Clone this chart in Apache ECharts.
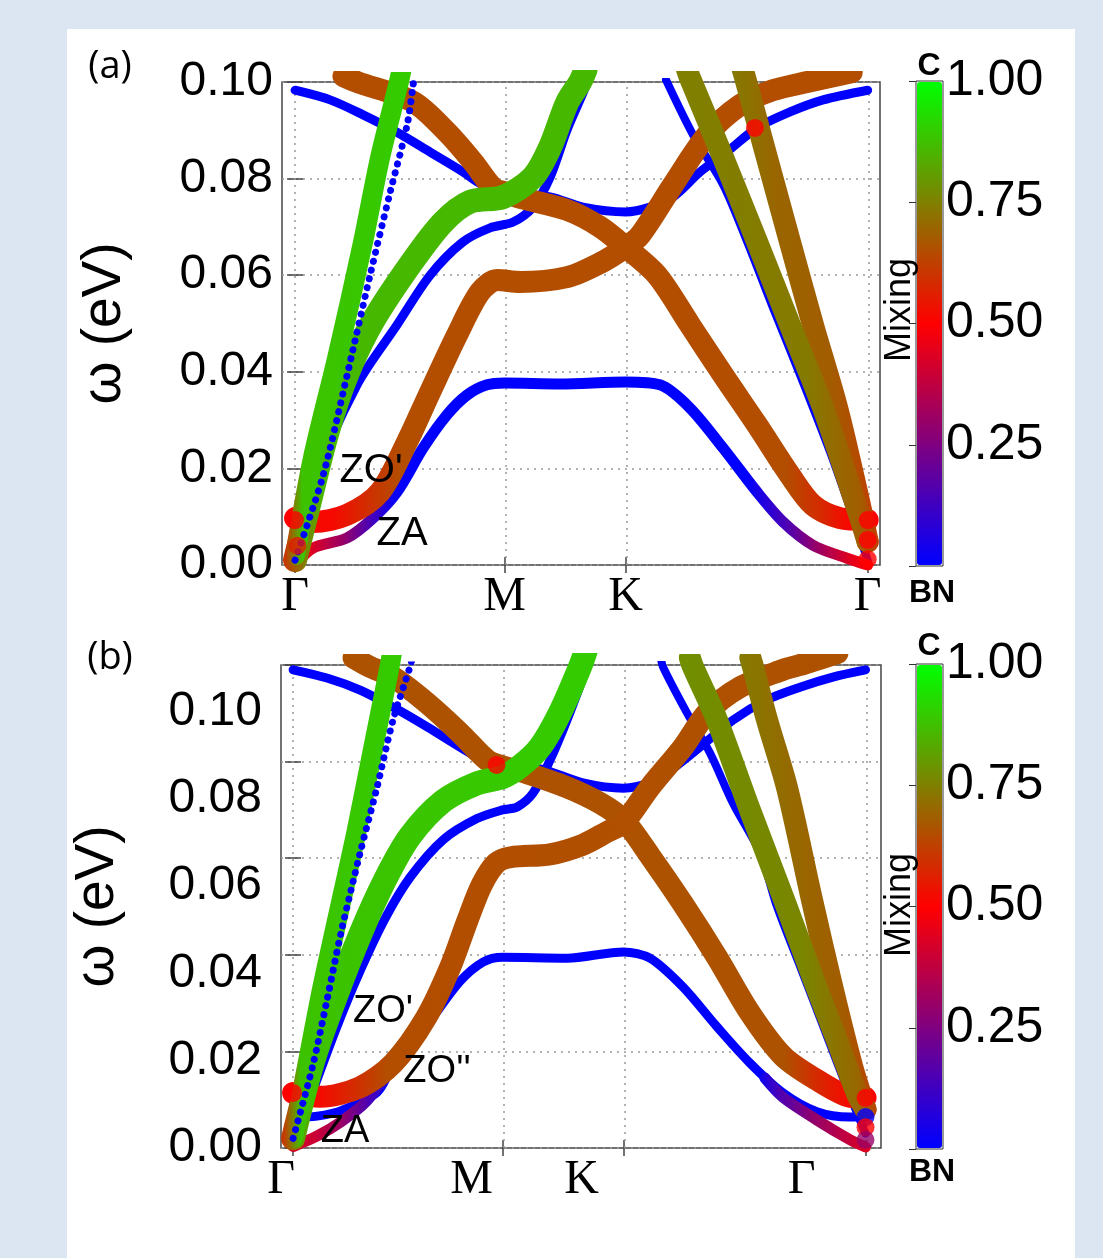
<!DOCTYPE html>
<html>
<head>
<meta charset="utf-8">
<script src="https://cdn.jsdelivr.net/npm/echarts@6/dist/echarts.min.js"></script>
<style>
  html, body { margin: 0; padding: 0; background: #dce6f2; }
  #main { width: 1103px; height: 1258px; }
</style>
</head>
<body>
<div id="main"></div>
<script>
// high-symmetry path: Γ-M-K-Γ (path length units)
const tickU = [0, 0.866, 1.366, 2.366];
const tickNames = ['Γ', 'M', 'K', 'Γ'];
const barTicks = [0.25, 0.5, 0.75, 1.0];

// ---- panel (a): [k, ω(eV)] ; mixing given as [k, mix] stops ----
const aUpperBlue = [[0,0.0983],[0.145,0.0963],[0.281,0.0932],[0.421,0.0896],[0.558,0.0855],[0.694,0.0814],[0.764,0.0790],[0.860,0.0772],[1.054,0.0762],[1.190,0.0741],[1.366,0.0731],[1.467,0.0741],[1.562,0.0762],[1.674,0.0814],[1.769,0.0849],[1.909,0.0905],[2.045,0.0938],[2.182,0.0963],[2.366,0.0983]];
const aZA = [[0,0],[0.074,0.0035],[0.215,0.0056],[0.322,0.0097],[0.421,0.0151],[0.529,0.0242],[0.628,0.0311],[0.711,0.0352],[0.793,0.0373],[0.866,0.0377],[1.095,0.0375],[1.366,0.0379],[1.508,0.0373],[1.632,0.0325],[1.769,0.0242],[1.909,0.0151],[2.017,0.0089],[2.140,0.0041],[2.281,0.0014],[2.366,0]];
const aZAMix = [[0,0.5],[0.074,0.45],[0.215,0.3],[0.322,0.15],[0.421,0.02],[0.5,0],[1.85,0],[2.017,0.15],[2.140,0.3],[2.281,0.45],[2.366,0.5]];
const aZO1 = [[0,0.0097],[0.074,0.0089],[0.215,0.0104],[0.351,0.0151],[0.463,0.0255],[0.558,0.0358],[0.669,0.0476],[0.764,0.0565],[0.835,0.0590],[0.930,0.0586],[1.124,0.0596],[1.260,0.0625],[1.366,0.0658],[1.426,0.0683],[1.562,0.0787],[1.702,0.0890],[1.839,0.0952],[1.975,0.0983],[2.116,0.1000],[2.30,0.1020]];
const aZO1Mix = [[0,0.5],[0.2,0.52],[0.35,0.6],[0.46,0.65],[2.3,0.65]];
const aBrown2 = [[0.20,0.1012],[0.256,0.1000],[0.488,0.0959],[0.628,0.0896],[0.736,0.0834],[0.818,0.0781],[0.876,0.0770],[0.917,0.0762],[1.124,0.0735],[1.260,0.0700],[1.366,0.0658],[1.496,0.0600],[1.632,0.0497],[1.769,0.0393],[1.909,0.0290],[2.045,0.0186],[2.140,0.0124],[2.252,0.0097],[2.366,0.0093]];
const aBrown2Mix = [[0.2,0.65],[2.0,0.65],[2.14,0.58],[2.25,0.51],[2.366,0.5]];
const aGreenWide = [[0,0.001],[0.06,0.013],[0.137,0.028],[0.22,0.040],[0.322,0.0505],[0.483,0.0627],[0.612,0.0710],[0.723,0.0752],[0.860,0.0762],[0.983,0.0803],[1.054,0.0865],[1.124,0.0957],[1.178,0.1000],[1.20,0.1025]];
const aGreenWideMix = [[0,0.6],[0.15,0.86],[1.2,0.86]];
const aBlueTA = [[0,0],[0.074,0.0166],[0.256,0.0373],[0.421,0.0497],[0.558,0.0600],[0.694,0.0669],[0.806,0.0698],[0.901,0.0710],[0.983,0.0741],[1.054,0.0803],[1.124,0.0901],[1.207,0.0998],[1.22,0.1025]];
const aGreenSteep = [[0,0.002],[0.074,0.0222],[0.174,0.0429],[0.281,0.0669],[0.351,0.0843],[0.426,0.0994],[0.44,0.1025]];
const aGreenSteepMix = [[0,0.6],[0.06,0.88],[0.44,0.9]];
const aBlueSteepL = [[0,0.001],[0.116,0.0186],[0.215,0.0393],[0.310,0.0600],[0.393,0.0772],[0.463,0.0911],[0.488,0.0994],[0.495,0.1025]];
const aBlueSteepR = [[1.533,0.1004],[1.645,0.0890],[1.769,0.0787],[1.868,0.0669],[1.975,0.0532],[2.087,0.0393],[2.223,0.0217],[2.366,0.001]];
const aOlive1 = [[1.62,0.1025],[1.632,0.1008],[1.769,0.0843],[1.909,0.0669],[2.045,0.0497],[2.182,0.0325],[2.322,0.0118],[2.366,0.0048]];
const aOlive1Mix = [[1.62,0.75],[2.1,0.74],[2.3,0.68],[2.366,0.62]];
const aOlive2 = [[1.85,0.1025],[1.860,0.1008],[1.950,0.0843],[2.045,0.0669],[2.140,0.0497],[2.240,0.0325],[2.322,0.0151],[2.366,0.0048]];
const aOlive2Mix = [[1.85,0.74],[2.0,0.7],[2.2,0.68],[2.366,0.62]];
const aDots = [[0,0.0093,0.5],[0.01,0.004,0.55],[2.366,0.0093,0.5],[2.366,0.0052,0.5],[2.366,0.0012,0.5],[1.90,0.0905,0.5]];

// ---- panel (b) ----
const bUpperBlue = [[0,0.0990],[0.140,0.0973],[0.277,0.0948],[0.413,0.0913],[0.554,0.0872],[0.690,0.0830],[0.802,0.0797],[0.866,0.0790],[1.021,0.0785],[1.198,0.0756],[1.366,0.0745],[1.475,0.0756],[1.545,0.0776],[1.682,0.0830],[1.818,0.0886],[1.959,0.0928],[2.095,0.0954],[2.231,0.0975],[2.366,0.0990]];
const bZALeft = [[0,0.0003],[0.1,0.0025],[0.2,0.0055],[0.3,0.0095],[0.413,0.0170]];
const bZALeftMix = [[0,0.42],[0.1,0.4],[0.2,0.3],[0.3,0.15],[0.413,0.02]];
const bZARight = [[1.95,0.0145],[2.025,0.0105],[2.165,0.0058],[2.302,0.0017],[2.366,0.0002]];
const bZARightMix = [[1.95,0.02],[2.025,0.15],[2.165,0.3],[2.302,0.4],[2.366,0.45]];
const bZO2 = [[0,0.0064],[0.1,0.0066],[0.207,0.0079],[0.347,0.0115],[0.413,0.0170],[0.554,0.0255],[0.690,0.0345],[0.785,0.0385],[0.866,0.0395],[1.132,0.0393],[1.366,0.0406],[1.475,0.0393],[1.612,0.0333],[1.752,0.0251],[1.888,0.0176],[2.025,0.0114],[2.165,0.0075],[2.302,0.0064],[2.366,0.0064]];
const bZO1 = [[0,0.0114],[0.112,0.0106],[0.277,0.0126],[0.413,0.0175],[0.55,0.0270],[0.65,0.0375],[0.72,0.0470],[0.78,0.0545],[0.84,0.0590],[0.90,0.0602],[1.062,0.0608],[1.198,0.0628],[1.30,0.0655],[1.366,0.0673],[1.475,0.0747],[1.612,0.0830],[1.711,0.0901],[1.847,0.0954],[2.025,0.0990],[2.095,0.1000],[2.25,0.1025]];
const bZO1Mix = [[0,0.5],[0.112,0.5],[0.277,0.58],[0.413,0.65],[2.25,0.66]];
const bBrown2 = [[0.25,0.1015],[0.318,0.0996],[0.413,0.0975],[0.554,0.0921],[0.690,0.0859],[0.802,0.0803],[0.866,0.0790],[0.967,0.0776],[1.132,0.0747],[1.269,0.0714],[1.366,0.0679],[1.475,0.0605],[1.612,0.0505],[1.752,0.0395],[1.888,0.0280],[2.025,0.0190],[2.165,0.0141],[2.302,0.0106],[2.366,0.0104]];
const bBrown2Mix = [[0.25,0.66],[2.0,0.66],[2.165,0.56],[2.302,0.5],[2.366,0.5]];
const bGreenWide = [[0,0.002],[0.083,0.018],[0.174,0.031],[0.28,0.0445],[0.38,0.0555],[0.483,0.0645],[0.620,0.0718],[0.760,0.0755],[0.866,0.0768],[0.938,0.0790],[1.021,0.0830],[1.103,0.0901],[1.186,0.0996],[1.21,0.103]];
const bGreenWideMix = [[0,0.6],[0.12,0.88],[1.21,0.9]];
const bBlueTA = [[0,0.001],[0.083,0.012],[0.18,0.025],[0.28,0.037],[0.38,0.0475],[0.483,0.0560],[0.620,0.0638],[0.760,0.0682],[0.866,0.0700],[0.926,0.0706],[0.992,0.0735],[1.062,0.0803],[1.132,0.0886],[1.215,0.0996],[1.24,0.103]];
const bGreenSteep = [[0,0.002],[0.06,0.0175],[0.12,0.033],[0.2,0.0513],[0.26,0.065],[0.32,0.08],[0.36,0.09],[0.4,0.1],[0.41,0.103]];
const bGreenSteepMix = [[0,0.6],[0.06,0.88],[0.41,0.9]];
const bBlueSteepL = [[0,0.002],[0.08,0.0168],[0.14,0.0306],[0.2,0.045],[0.277,0.0611],[0.347,0.0747],[0.413,0.0886],[0.483,0.0996],[0.5,0.103]];
const bBlueSteepR = [[1.52,0.1015],[1.529,0.0996],[1.628,0.0901],[1.723,0.0818],[1.818,0.0714],[1.930,0.0611],[2.0,0.0500],[2.1,0.037],[2.2,0.024],[2.3,0.011],[2.366,0.003]];
const bOlive1 = [[1.64,0.1015],[1.653,0.0996],[1.752,0.0886],[1.888,0.0700],[2.03,0.0513],[2.15,0.035],[2.25,0.022],[2.33,0.0114],[2.366,0.008]];
const bOlive1Mix = [[1.64,0.78],[2.1,0.76],[2.3,0.7],[2.366,0.64]];
const bOlive2 = [[1.89,0.1015],[1.901,0.0996],[1.959,0.0886],[2.041,0.0747],[2.145,0.0513],[2.23,0.033],[2.31,0.017],[2.35,0.0105],[2.366,0.008]];
const bOlive2Mix = [[1.89,0.74],[2.05,0.71],[2.25,0.68],[2.366,0.63]];
const bDots = [[0,0.0114,0.5],[0.841,0.0793,0.5],[2.366,0.0104,0.5],[2.366,0.0064,0],[2.366,0.0043,0.5],[2.366,0.0017,0.3]];

// blue(BN) -> red -> green(C)
function cmap(m) {
  m = Math.max(0, Math.min(1, m));
  let r, g, b;
  if (m <= 0.5) { const t = m / 0.5; r = 255 * t; g = 0; b = 255 * (1 - t); }
  else { const t = (m - 0.5) / 0.5; r = 255 * (1 - t); g = 255 * t; b = 0; }
  return 'rgb(' + Math.round(r) + ',' + Math.round(g) + ',' + Math.round(b) + ')';
}

function bandColor(pts, mix) {
  if (typeof mix === 'number') return cmap(mix);
  const u0 = pts[0][0], u1 = pts[pts.length - 1][0];
  const stops = mix.map(s => ({
    offset: Math.max(0, Math.min(1, (s[0] - u0) / (u1 - u0))),
    color: cmap(s[1])
  }));
  return new echarts.graphic.LinearGradient(0, 0, 1, 0, stops);
}

function band(pts, mix, width, xi, yi, dotted) {
  return {
    type: 'line', xAxisIndex: xi, yAxisIndex: yi, data: pts,
    smooth: 0.3, symbol: 'none', silent: true,
    lineStyle: {
      width: width, color: bandColor(pts, mix), cap: 'round', join: 'round',
      type: dotted ? [0.1, 9] : 'solid', opacity: 1
    }
  };
}

function gridLines() {
  return {
    silent: true, symbol: ['none', 'none'], z: 1,
    label: { show: false },
    lineStyle: { color: '#999', type: [2, 5], width: 1.5 },
    data: tickU.map(v => ({ xAxis: v }))
  };
}

const series = [];
// (a)
const a0 = band(aUpperBlue, 0, 9, 0, 0);
a0.markLine = gridLines();
series.push(a0,
  band(aBlueSteepR, 0, 8, 0, 0),
  band(aZA, aZAMix, 11, 0, 0),
  band(aBlueTA, 0, 9, 0, 0),
  band(aBrown2, aBrown2Mix, 22, 0, 0),
  band(aZO1, aZO1Mix, 22, 0, 0),
  band(aGreenWide, aGreenWideMix, 24, 0, 0),
  band(aGreenSteep, aGreenSteepMix, 20, 0, 0),
  band(aBlueSteepL, 0, 7, 0, 0, true),
  band(aOlive2, aOlive2Mix, 22, 0, 0),
  band(aOlive1, aOlive1Mix, 22, 0, 0)
);
const aDotIndex = series.length;
series.push({ type: 'scatter', xAxisIndex: 0, yAxisIndex: 0, data: aDots, symbolSize: 18, silent: true, z: 3 });

// (b)
const b0 = band(bUpperBlue, 0, 9, 2, 2);
b0.markLine = gridLines();
series.push(b0,
  band(bBlueSteepR, 0, 8, 2, 2),
  band(bZO2, 0, 9, 2, 2),
  band(bZALeft, bZALeftMix, 11, 2, 2),
  band(bZARight, bZARightMix, 11, 2, 2),
  band(bBlueTA, 0, 9, 2, 2),
  band(bBrown2, bBrown2Mix, 22, 2, 2),
  band(bZO1, bZO1Mix, 22, 2, 2),
  band(bGreenWide, bGreenWideMix, 24, 2, 2),
  band(bGreenSteep, bGreenSteepMix, 20, 2, 2),
  band(bBlueSteepL, 0, 7, 2, 2, true),
  band(bOlive2, bOlive2Mix, 22, 2, 2),
  band(bOlive1, bOlive1Mix, 22, 2, 2)
);
const bDotIndex = series.length;
series.push({ type: 'scatter', xAxisIndex: 2, yAxisIndex: 2, data: bDots, symbolSize: 18, silent: true, z: 3 });

const frame = { show: true, borderColor: '#444', borderWidth: 1.5, backgroundColor: '#fff' };
const numFont = { fontFamily: 'Liberation Sans', fontSize: 48, color: '#000' };
const barFont = { fontFamily: 'Liberation Sans', fontSize: 50, color: '#000' };
const kFont = { fontFamily: 'Liberation Serif', fontSize: 48, color: '#000' };
const nameFont = { fontSize: 55, fontFamily: 'Liberation Sans', color: '#000' };
const tick = { show: true, inside: true, length: 8, lineStyle: { color: '#444', width: 1.5 } };
const dotted = { show: true, lineStyle: { color: '#999', type: [2, 5], width: 1.5 } };
const kLabel = v => { const i = tickU.findIndex(t => Math.abs(t - v) < 1e-6); return i < 0 ? '' : tickNames[i]; };

function kAxis(grid, min, max, opts) {
  return Object.assign({
    type: 'value', gridIndex: grid, min: min, max: max, position: 'bottom', offset: 0,
    axisLine: { show: false }, splitLine: { show: false },
    axisTick: Object.assign({ customValues: tickU }, tick),
    axisLabel: { show: false }
  }, opts);
}

const option = {
  backgroundColor: '#dce6f2',
  animation: false,
  textStyle: { fontFamily: 'Liberation Sans' },
  grid: [
    Object.assign({ left: 282, top: 82, width: 598, height: 483 }, frame),
    Object.assign({ left: 281, top: 665, width: 600, height: 483 }, frame),
    { left: 916, top: 81, width: 27, height: 485, show: true, borderColor: '#333', borderWidth: 1 },
    { left: 916, top: 664, width: 27, height: 485, show: true, borderColor: '#333', borderWidth: 1 }
  ],
  xAxis: [
    kAxis(0, -0.054, 2.417, { axisLabel: Object.assign({ show: true, customValues: tickU, formatter: kLabel, margin: 8 }, kFont) }),
    kAxis(0, -0.054, 2.417, { position: 'top' }),
    kAxis(1, -0.05, 2.43),
    kAxis(1, -0.05, 2.43, { position: 'top' }),
    // (b) tick labels sit offset from the grid lines in the original figure
    kAxis(1, 0, 2.727, { axisTick: { show: false }, axisLabel: Object.assign({ show: true, customValues: tickU, formatter: kLabel, margin: 8 }, kFont) }),
    { type: 'value', gridIndex: 2, show: false },
    { type: 'value', gridIndex: 3, show: false }
  ],
  yAxis: [
    { type: 'value', gridIndex: 0, position: 'left', offset: 0, min: 0, max: 0.1, interval: 0.02, axisLine: { show: false }, axisTick: tick, splitLine: dotted,
      axisLabel: Object.assign({ margin: 9, formatter: v => v.toFixed(2) }, numFont),
      name: 'ω (eV)', nameLocation: 'middle', nameGap: 150, nameTextStyle: nameFont },
    { type: 'value', gridIndex: 0, position: 'right', offset: 0, min: 0, max: 0.1, interval: 0.02, axisLine: { show: false }, axisTick: tick, axisLabel: { show: false }, splitLine: { show: false } },
    { type: 'value', gridIndex: 1, position: 'left', offset: 0, min: 0, max: 0.1, interval: 0.02, axisLine: { show: false }, axisTick: tick, splitLine: dotted, axisLabel: { show: false } },
    { type: 'value', gridIndex: 1, position: 'right', offset: 0, min: 0, max: 0.1, interval: 0.02, axisLine: { show: false }, axisTick: tick, axisLabel: { show: false }, splitLine: { show: false } },
    // (b) value labels sit offset from the grid lines in the original figure
    { type: 'value', gridIndex: 1, position: 'left', offset: 0, min: 0, max: 0.1106, interval: 0.02, axisLine: { show: false }, axisTick: { show: false }, splitLine: { show: false },
      axisLabel: Object.assign({ margin: 19, showMaxLabel: false, formatter: v => v.toFixed(2) }, numFont),
      name: 'ω (eV)', nameLocation: 'middle', nameGap: 156, nameTextStyle: nameFont },
    { type: 'value', gridIndex: 2, position: 'right', offset: 0, min: 0, max: 1, interval: 0.25, axisLine: { show: false }, splitLine: { show: false },
      axisTick: { show: true, inside: true, length: 7, lineStyle: { color: '#333' } },
      axisLabel: Object.assign({ margin: 3, formatter: v => (barTicks.indexOf(v) < 0 ? '' : v.toFixed(2)) }, barFont) },
    { type: 'value', gridIndex: 3, position: 'right', offset: 0, min: 0, max: 1, interval: 0.25, axisLine: { show: false }, splitLine: { show: false },
      axisTick: { show: true, inside: true, length: 7, lineStyle: { color: '#333' } },
      axisLabel: Object.assign({ margin: 3, formatter: v => (barTicks.indexOf(v) < 0 ? '' : v.toFixed(2)) }, barFont) }
  ],
  visualMap: [
    { type: 'continuous', min: 0, max: 1, dimension: 2, seriesIndex: aDotIndex, left: 917, top: 82, itemWidth: 25, itemHeight: 483,
      padding: 0, calculable: false, hoverLink: false, inRange: { color: ['#0000ff', '#ff0000', '#00ff00'] } },
    { type: 'continuous', min: 0, max: 1, dimension: 2, seriesIndex: bDotIndex, left: 917, top: 665, itemWidth: 25, itemHeight: 483,
      padding: 0, calculable: false, hoverLink: false, inRange: { color: ['#0000ff', '#ff0000', '#00ff00'] } }
  ],
  graphic: [
    { type: 'rect', z: -10, silent: true, shape: { x: 67, y: 29, width: 1008, height: 1229 }, style: { fill: '#fff' } },
    { type: 'text', x: 110, y: 67, style: { text: '(a)', fontSize: 38, fontFamily: 'Open Sans', fill: '#000', align: 'center', verticalAlign: 'middle' } },
    { type: 'text', x: 110, y: 658, style: { text: '(b)', fontSize: 38, fontFamily: 'Open Sans', fill: '#000', align: 'center', verticalAlign: 'middle' } },
    { type: 'text', x: 371, y: 471, z: 10, style: { text: "ZO'", fontSize: 40, fontFamily: 'Liberation Sans', fill: '#000', align: 'center', verticalAlign: 'middle' } },
    { type: 'text', x: 402, y: 534, z: 10, style: { text: 'ZA', fontSize: 40, fontFamily: 'Liberation Sans', fill: '#000', align: 'center', verticalAlign: 'middle' } },
    { type: 'text', x: 383, y: 1012, z: 10, style: { text: "ZO'", fontSize: 38, fontFamily: 'Liberation Sans', fill: '#000', align: 'center', verticalAlign: 'middle' } },
    { type: 'text', x: 437, y: 1072, z: 10, style: { text: "ZO''", fontSize: 38, fontFamily: 'Liberation Sans', fill: '#000', align: 'center', verticalAlign: 'middle' } },
    { type: 'text', x: 345, y: 1132, z: 10, style: { text: 'ZA', fontSize: 38, fontFamily: 'Liberation Sans', fill: '#000', align: 'center', verticalAlign: 'middle' } },
    { type: 'text', x: 900, y: 310, z: 10, rotation: Math.PI / 2, style: { text: 'Mixing', fontSize: 36, fontFamily: 'Liberation Sans', fill: '#000', align: 'center', verticalAlign: 'middle' } },
    { type: 'text', x: 900, y: 905, z: 10, rotation: Math.PI / 2, style: { text: 'Mixing', fontSize: 36, fontFamily: 'Liberation Sans', fill: '#000', align: 'center', verticalAlign: 'middle' } },
    { type: 'text', x: 929, y: 66, style: { text: 'C', fontSize: 32, fontWeight: 'bold', fontFamily: 'Liberation Sans', fill: '#000', align: 'center', verticalAlign: 'middle' } },
    { type: 'text', x: 932, y: 593, style: { text: 'BN', fontSize: 32, fontWeight: 'bold', fontFamily: 'Liberation Sans', fill: '#000', align: 'center', verticalAlign: 'middle' } },
    { type: 'text', x: 929, y: 646, style: { text: 'C', fontSize: 32, fontWeight: 'bold', fontFamily: 'Liberation Sans', fill: '#000', align: 'center', verticalAlign: 'middle' } },
    { type: 'text', x: 932, y: 1172, style: { text: 'BN', fontSize: 32, fontWeight: 'bold', fontFamily: 'Liberation Sans', fill: '#000', align: 'center', verticalAlign: 'middle' } }
  ],
  series: series
};

const chart = echarts.init(document.getElementById('main'));
chart.setOption(option);
</script>
</body>
</html>
